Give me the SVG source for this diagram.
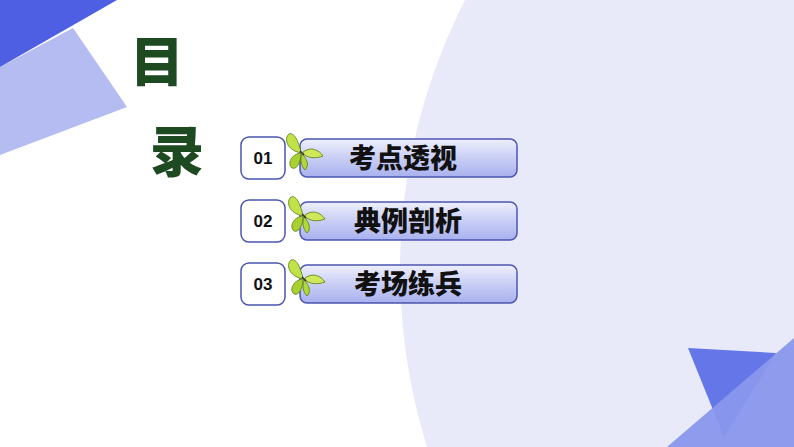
<svg xmlns="http://www.w3.org/2000/svg" width="794" height="447" viewBox="0 0 794 447">
<style>
.num{font-family:"Liberation Sans",Arial,sans-serif;font-weight:bold;font-size:17px;fill:#111}
.lbl{font-family:"Noto Sans CJK SC",sans-serif;font-weight:900;font-size:27px;fill:#111}
.box{fill:#fff;stroke:#4a56b0;stroke-width:1.5}
.pill{fill:url(#pg);stroke:#4a56b0;stroke-width:1.5}
.title{font-family:"Noto Sans CJK SC",sans-serif;font-weight:900;font-size:54px;fill:#1e4a22}
</style>
<defs>
<linearGradient id="pg" x1="0" y1="0" x2="0" y2="1">
<stop offset="0" stop-color="#eef0fc"/><stop offset="0.5" stop-color="#c9cef5"/><stop offset="1" stop-color="#a9b1ee"/>
</linearGradient>
<g id="bf">
<path d="M15,20 C12,8 8,0 3,2 C-2,6 0,18 15,21 Z" fill="#c2e24a" stroke="#5a7a10" stroke-width="0.8"/>
<path d="M15,21 C5,22 1,32 6,36 C11,38 15,30 15,21 Z" fill="#a8d030" stroke="#5a7a10" stroke-width="0.8"/>
<path d="M17,20 C25,14 33,18 37,24 C29,27 22,26 17,22 Z" fill="#cfe85a" stroke="#5a7a10" stroke-width="0.8"/>
<path d="M16,22 C22,28 23,34 19,38 C15,34 14,28 16,22 Z" fill="#b2d838" stroke="#5a7a10" stroke-width="0.8"/>
<line x1="14" y1="19" x2="18" y2="23" stroke="#333" stroke-width="1.6"/>
</g>
</defs>
<rect width="794" height="447" fill="#fff"/>
<circle cx="993" cy="270" r="593" fill="#e8eafa"/>
<polygon points="0,67 73,28 127,107 0,155" fill="#b4bcf1"/>
<polygon points="0,0 117,0 0,67" fill="#4e5fe4"/>
<polygon points="688,348 776,353 724,437" fill="#6577e8"/>
<polygon points="667,447 794,338 794,447" fill="#8a97ec" fill-opacity="0.95"/>
<g id="title">
<text class="title" x="130" y="82">目</text>
<text class="title" x="150" y="172">录</text>
</g>
<g id="item1">
<rect class="box" x="241" y="137" width="44" height="42" rx="8"/>
<text class="num" x="263" y="164" text-anchor="middle">01</text>
<rect class="pill" x="300" y="139" width="217" height="38" rx="7"/>
<use href="#bf" x="286" y="132"/>
<text class="lbl" x="403" y="168" text-anchor="middle">考点透视</text>
</g>
<g id="item2">
<rect class="box" x="241" y="200" width="44" height="42" rx="8"/>
<text class="num" x="263" y="227" text-anchor="middle">02</text>
<rect class="pill" x="300" y="202" width="217" height="38" rx="7"/>
<use href="#bf" x="288" y="195"/>
<text class="lbl" x="408" y="231" text-anchor="middle">典例剖析</text>
</g>
<g id="item3">
<rect class="box" x="241" y="263" width="44" height="42" rx="8"/>
<text class="num" x="263" y="290" text-anchor="middle">03</text>
<rect class="pill" x="300" y="265" width="217" height="38" rx="7"/>
<use href="#bf" x="288" y="258"/>
<text class="lbl" x="408" y="294" text-anchor="middle">考场练兵</text>
</g>
<g id="connectors"/>
</svg>
